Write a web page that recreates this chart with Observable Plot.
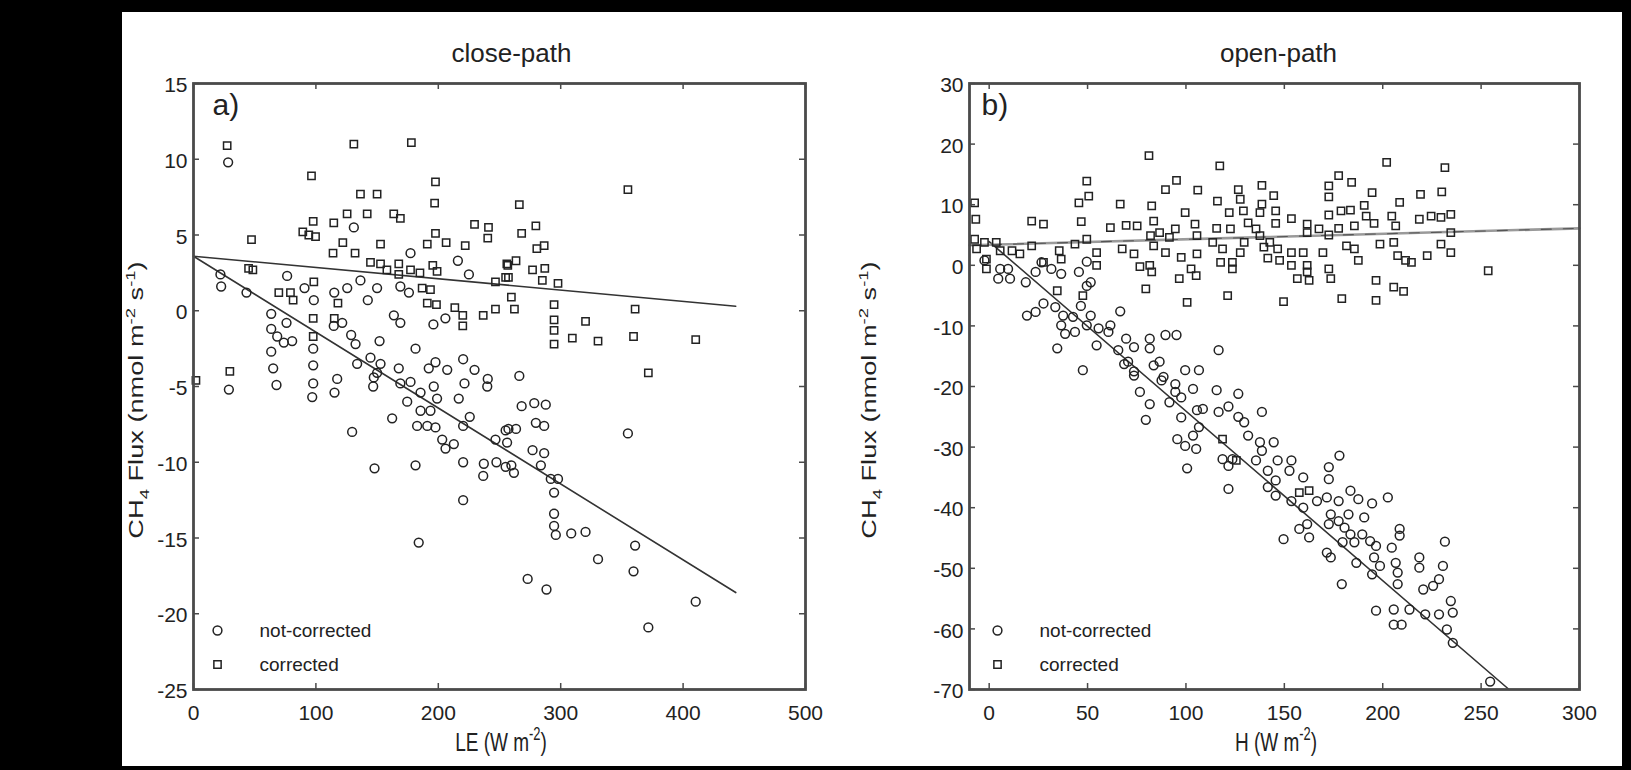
<!DOCTYPE html>
<html>
<head>
<meta charset="utf-8">
<script src="https://cdn.jsdelivr.net/npm/d3@7"></script>
<script src="https://cdn.jsdelivr.net/npm/@observablehq/plot@0.6"></script>
<style>
  html, body { margin: 0; padding: 0; background: #000; }
  #wrap { position: relative; width: 1631px; height: 770px; background: #000; overflow: hidden; }
  #paper { position: absolute; left: 122px; top: 12px; width: 1500px; height: 754px; background: #fff; }
  #pa { position: absolute; left: 0; top: 0; }
  #pb { position: absolute; left: 850px; top: 0; }
</style>
</head>
<body>
<div id="wrap"><div id="paper"></div><div id="pa"></div><div id="pb"></div></div>
<script>
// ---------------- DATA ----------------
const panelTitles = ["close-path", "open-path"];
const panelLetters = ["a)", "b)"];
const legendLabels = ["not-corrected", "corrected"];

const closeXTicks = [0, 100, 200, 300, 400, 500];
const closeYTicks = [15, 10, 5, 0, -5, -10, -15, -20, -25];
const openXTicks = [0, 50, 100, 150, 200, 250, 300];
const openYTicks = [30, 20, 10, 0, -10, -20, -30, -40, -50, -60, -70];

// close-path, not-corrected (circles): [LE, CH4 flux]
const closeNotCorrected = [
  [28.3,9.8],[131,5.5],[177.3,3.8],[216,3.3],[22,2.4],[22.6,1.6],[43.3,1.2],[76.5,2.3],[136.4,2.0],[225,2.4],
  [90.7,1.5],[98.3,0.7],[115,1.2],[125.6,1.5],[142.4,0.7],[150,1.5],[169,1.6],[176,1.2],[63.5,-0.2],[76,-0.8],
  [121.5,-0.8],[114.6,-1.0],[163.7,-0.3],[169,-0.8],[196,-0.9],[205.8,-0.5],[63.5,-1.2],[68.4,-1.7],[80.6,-2.0],
  [128.8,-1.6],[132.4,-2.2],[152,-2.0],[181.4,-2.5],[63.5,-2.7],[97.8,-2.5],[73.8,-2.1],
  [133.7,-3.5],[144.6,-3.1],[152.8,-3.5],[65.1,-3.8],[97.8,-3.6],[150,-4.1],[167.7,-3.8],[192.2,-3.8],[197.7,-3.4],
  [207.3,-3.9],[220.3,-3.2],[229.6,-3.9],[240.4,-4.5],[240,-5.0],[28.9,-5.2],[67.8,-4.9],[97.8,-4.8],[97,-5.7],
  [117.4,-4.5],[115.2,-5.4],[146.8,-5.0],[147.3,-4.4],[169,-4.8],[174.6,-6.0],[177.3,-4.7],[185.5,-5.4],[196.3,-5.0],
  [199,-5.8],[185.5,-6.6],[193.6,-6.6],[162.3,-7.1],[182.7,-7.6],[191,-7.6],[197.7,-7.7],[129.6,-8.0],[203.2,-8.5],
  [212.7,-8.8],[205.9,-9.1],[216.7,-5.8],[221.4,-4.8],[220.3,-7.6],[225.7,-7.0],[246.7,-8.5],[255,-7.9],[220.3,-10.0],
  [237.2,-10.1],[236.7,-10.9],[247.5,-10.0],[255,-10.3],[147.9,-10.4],[181.4,-10.2],[220.3,-12.5],[184,-15.3],
  [266.2,-4.3],[268.1,-6.3],[278.4,-6.1],[287.8,-6.2],[279.7,-7.4],[286.5,-7.6],[257.3,-7.8],[263.5,-7.8],[256.2,-8.7],
  [277,-9.2],[286.5,-9.4],[283.8,-10.2],[259.7,-10.2],[261.8,-10.7],[291.9,-11.1],[297.8,-11.1],[294.6,-12.0],
  [294.6,-13.4],[294.6,-14.2],[296,-14.8],[308.6,-14.7],[320.3,-14.6],[330.5,-16.4],[360.8,-15.5],[359.5,-17.2],
  [354.9,-8.1],[273,-17.7],[288.4,-18.4],[410.3,-19.2],[371.6,-20.9]
];

// close-path, corrected (squares)
const closeCorrected = [
  [27.5,10.9],[96.4,8.9],[131,11.0],[178,11.1],[197.7,8.5],[197,7.1],[136.4,7.7],[150,7.7],[97.8,5.9],[114.6,5.8],
  [125.5,6.4],[141.9,6.4],[163.6,6.4],[169,6.1],[89.3,5.2],[94.2,5.0],[99.7,4.9],[47.4,4.7],[122,4.5],[114,3.8],
  [132,3.8],[152.8,4.4],[191,4.4],[197.7,5.1],[206.4,4.5],[222,4.3],[229.6,5.7],[241,5.5],[240.4,4.8],[256,3.1],
  [45,2.8],[48.5,2.7],[98.3,1.9],[144.6,3.2],[152.8,3.1],[158,2.7],[167.7,3.1],[167.7,2.4],[177.3,2.7],[185,2.5],
  [195.5,3.0],[199,2.6],[246.7,1.9],[255,2.2],[69.7,1.2],[79.2,1.2],[81.4,0.7],[118,0.5],[186.8,1.5],[193.6,1.4],
  [191,0.5],[198.5,0.4],[213.5,0.2],[236.7,-0.3],[246.7,0.1],[97.8,-0.5],[115,-0.5],[220,-0.3],[220,-1.0],[97.8,-1.7],
  [29.7,-4.0],[2,-4.6],
  [354.9,8.0],[266.2,7.0],[268.1,5.1],[279.7,5.6],[280.5,4.1],[286.5,4.3],[263.5,3.3],[256.8,3.0],[257.3,2.2],
  [277,2.7],[287,2.8],[285,2.0],[297.8,1.8],[259.7,0.9],[262.2,0.1],[294.6,0.4],[294.6,-0.6],[294.6,-1.3],
  [294.6,-2.2],[320.3,-0.7],[309.5,-1.8],[330.5,-2.0],[360.8,0.1],[359.5,-1.7],[410.3,-1.9],[371.6,-4.1]
];

// open-path, not-corrected (circles): [H, CH4 flux]
const openNotCorrected = [
  [4.6,-2.2],[10.6,-2.2],[5.6,-0.6],[9.6,-0.6],[-2.4,0.8],[18.6,-2.8],[26.6,0.5],[31.6,-0.6],[36.6,-1.4],[45.6,-1.1],
  [49.6,0.6],[51.6,-2.8],[19.2,-8.3],[23.6,-7.7],[27.6,-6.3],[33.6,-6.9],[37.6,-8.3],[42.6,-8.5],[46.6,-6.7],
  [51.6,-8.3],[36.6,-9.9],[43.6,-11.0],[38.6,-11.3],[49.6,-9.9],[55.6,-10.4],[60.6,-11.0],[61.6,-9.9],[66.6,-7.6],
  [34.6,-13.7],[54.6,-13.2],[47.6,-17.3],[69.6,-12.1],[73.6,-13.5],[81.6,-12.1],[81.6,-13.7],[89.6,-11.5],
  [95.2,-11.5],[116.6,-14.0],[70.6,-15.9],[73.6,-17.5],[83.6,-16.5],[86.6,-15.9],[99.6,-17.3],[106.6,-17.3],
  [88.6,-18.4],[65.6,-14.0],[49.6,-3.4],[23.6,-1.1],
  [68.6,-16.3],[73.6,-18.2],[87.6,-19.0],[94.6,-19.6],[103.6,-20.4],[94.6,-20.9],[76.6,-20.9],[81.6,-22.9],
  [79.6,-25.5],[91.6,-22.6],[97.6,-21.8],[115.6,-20.6],[126.6,-21.2],[105.6,-23.9],[108.6,-23.7],[116.6,-24.2],
  [121.6,-23.3],[126.6,-25.0],[129.6,-25.9],[138.6,-24.2],[97.6,-25.1],[106.6,-26.7],[95.6,-28.7],[99.6,-29.8],
  [105.2,-30.3],[103.6,-28.1],[131.6,-28.1],[137.6,-29.2],[138.6,-30.6],[144.6,-29.2],[100.6,-33.5],[118.6,-32.0],
  [123.6,-32.0],[121.6,-33.1],[135.6,-32.2],[121.6,-36.9],[146.6,-32.2],[141.6,-33.9],[141.6,-36.6],[145.6,-35.5],
  [153.6,-32.2],[159.6,-35.0],[152.6,-33.9],[172.6,-33.3],[172.6,-35.3],[178,-31.4],[145.6,-38.0],[153.6,-38.9],
  [159.6,-40.0],[166.6,-38.9],[171.6,-38.3],[177.6,-38.9],[183.6,-37.2],[187.6,-38.6],[194.6,-39.3],[202.6,-38.3],
  [173.6,-41.1],[182.6,-41.1],[190.6,-41.6],[177.6,-42.2],[172.6,-42.7],[161.6,-42.7],[157.6,-43.5],[162.6,-44.9],
  [149.6,-45.2],[180.6,-43.3],[183.6,-44.4],[185.6,-45.7],[179.6,-45.7],[189.6,-44.4],[193.6,-45.5],[196.6,-46.3],
  [204.6,-46.6],[208.6,-43.5],[208.6,-44.6],[231.6,-45.6],[171.6,-47.4],[173.6,-48.2],[179.2,-52.6],[186.6,-49.1],
  [195.6,-48.2],[198.6,-49.6],[194.6,-51.0],[206.6,-49.1],[207.6,-50.7],[207.6,-52.6],[218.6,-48.2],[218.6,-49.9],
  [230.6,-49.6],[220.6,-53.5],[225.6,-52.9],[228.6,-51.8],[196.6,-57.0],[205.6,-56.8],[205.6,-59.3],[209.6,-59.3],
  [213.6,-56.8],[221.6,-57.6],[228.6,-57.6],[234.6,-55.4],[235.6,-57.3],[232.6,-60.1],[235.6,-62.3],[254.6,-68.7]
];

// open-path, corrected (squares)
const openCorrected = [
  [81.2,18.1],[117.2,16.4],[202,17.0],[231.6,16.1],[49.6,13.9],[50.6,11.4],[45.6,10.3],[95.2,14.0],[89.6,12.5],
  [106,12.4],[116,10.6],[126.6,12.5],[127.6,10.9],[138.6,13.2],[144.6,11.5],[138.6,10.1],[177.6,14.8],[184.2,13.7],
  [172.6,13.1],[172.6,11.3],[194.6,12.0],[208.6,10.4],[219.2,11.7],[230,12.1],[66.6,10.1],[82.6,9.8],[99.6,8.7],
  [122,8.7],[129.2,9.0],[137.6,8.7],[145.6,9.0],[153.6,7.7],[161.6,6.8],[172.6,8.3],[178.8,9.0],[183.6,9.1],
  [190.6,9.9],[191.6,8.1],[204.6,8.1],[218.6,7.6],[224.6,8.1],[229.6,7.9],[234.6,8.4],[-7.4,10.3],[-6.8,7.6],
  [21.6,7.3],[27.6,6.8],[46.8,7.2],[61.6,6.2],[69.6,6.6],[75.2,6.5],[83.6,7.3],[86.6,5.4],[94.6,6.0],[104.6,6.8],
  [115.6,6.1],[122.6,6.0],[131.6,7.0],[135.6,6.0],[145.6,6.9],[161.6,5.4],[167.6,6.0],[177.6,6.1],[185.6,6.5],
  [195.6,6.9],[206.6,6.5],[234.6,5.4],[229.6,3.5],[234.6,2.1],[222.6,1.6],[207.6,1.6],[211.6,0.8],[214.6,0.5],
  [205.6,3.8],[198.6,3.5],[185.6,2.7],[187.6,0.8],[181.6,3.2],[172.6,5.0],[169.6,2.1],[159.6,2.1],[153.6,2.1],
  [146.6,2.7],[142.6,3.8],[141.6,1.2],[147.6,0.8],[153.6,0],[161.6,0],[161.6,-1.1],[156.6,-2.2],[162.6,-2.5],
  [172.6,-0.6],[173.6,-2.2],[196.6,-2.5],[196.6,-5.8],[205.6,-3.6],[210.6,-4.3],[179.2,-5.5],[149.6,-6.0],
  [121.2,-5.0],[100.6,-6.1],[96.6,-2.2],[105.2,-1.7],[102.6,-0.6],[105.6,1.9],[97.6,1.3],[89.6,2.1],[91.6,4.6],
  [82,4.9],[83.6,3.2],[105.6,4.9],[113.6,3.8],[117.6,0.5],[123.6,0.5],[123.6,-0.6],[127.6,2.1],[118.6,2.7],
  [129.6,3.8],[137.6,4.9],[139.6,3.0],[81.6,0],[76.6,-0.2],[82.6,-1.1],[79.6,-3.9],[253.6,-0.9],[67.6,2.7],
  [73.6,1.9],[54.6,2.1],[49.6,4.3],[54.6,0],[43.6,3.5],[35.6,2.4],[36.6,1.0],[27.6,0.5],[34.6,-4.2],[47.6,-5.0],
  [11.6,2.4],[21.6,3.2],[3.6,3.8],[-2.4,3.8],[-7.4,4.3],[-6.4,2.7],[-1.4,1.0],[-1.4,-0.6],[5.6,2.4],[15.6,1.9],
  [157.6,-37.5],[162.6,-37.2],[125.6,-32.2],[118.6,-28.7]
];

// fitted lines (end points)
const closeFitNotCorrected = [[0, 3.6], [443, -18.6]];
const closeFitCorrected = [[0, 3.6], [443, 0.3]];
const openFitNotCorrected = [[0, 3.9], [264.2, -70]];
const openFitCorrected = [[-10, 3.3], [300, 6.1]];

// axis label pieces: [text, kind]
const closeXLabel = [["LE (W m"], ["-2", "sup"], [")"]];
const openXLabel = [["H (W m"], ["-2", "sup"], [")"]];
const yLabel = [["CH"], ["4", "sub"], [" Flux (nmol m"], ["-2", "sup"], [" s"], ["-1", "sup"], [")"]];

// ---------------- DRAWING ----------------
const INK = "#222";
const FRAME = "#4a4a4a";
const FONT = "'Liberation Sans', Arial, Helvetica, sans-serif";

function panel(cfg) {
  const W = cfg.width, H = 770;
  const mt = 83, mb = 81;
  const ph = H - mt - mb, pw = W - cfg.ml - cfg.mr;
  const tl = 6;
  const px = d => d[0], py = d => d[1];
  const dotStyle = {stroke: INK, strokeWidth: 1.5, fill: "none"};
  const svg = Plot.plot({
    width: W, height: H,
    marginLeft: cfg.ml, marginRight: cfg.mr, marginTop: mt, marginBottom: mb,
    x: {domain: cfg.xDomain},
    y: {domain: cfg.yDomain},
    style: {background: "none", fontFamily: FONT, fontSize: "21px", color: INK, overflow: "visible"},
    marks: [
      ...cfg.lines,
      Plot.dot(cfg.nc, {x: px, y: py, symbol: "circle", r: 4.4, ...dotStyle}),
      Plot.dot(cfg.co, {x: px, y: py, symbol: "square", r: 4.1, ...dotStyle}),
      // inward ticks on all four sides
      Plot.tickX(cfg.xTicks, {x: d => d, insetTop: ph - tl, stroke: FRAME, strokeWidth: 1.5}),
      Plot.tickX(cfg.xTicks, {x: d => d, insetBottom: ph - tl, stroke: FRAME, strokeWidth: 1.5}),
      Plot.tickY(cfg.yTicks, {y: d => d, insetRight: pw - tl, stroke: FRAME, strokeWidth: 1.5}),
      Plot.tickY(cfg.yTicks, {y: d => d, insetLeft: pw - tl, stroke: FRAME, strokeWidth: 1.5}),
      Plot.frame({stroke: FRAME, strokeWidth: 2.8}),
      Plot.axisX(cfg.xTicks, {tickSize: 0, tickPadding: 16, tickFormat: d => String(d), label: null, fill: INK}),
      Plot.axisY(cfg.yTicks, {tickSize: 0, tickPadding: 6, tickFormat: d => String(d), label: null, dy: 2, fill: INK}),
      // title & panel letter
      Plot.text([cfg.title], {text: d => d, frameAnchor: "top", lineAnchor: "middle", dx: cfg.titleDx, dy: -30, fontSize: 26, fill: INK}),
      Plot.text([cfg.letter], {text: d => d, frameAnchor: "top-left", dx: cfg.letterDx, dy: 10, lineAnchor: "top", textAnchor: "start", fontSize: 30, fill: INK}),
      // legend
      Plot.dot([legendLabels[0]], {frameAnchor: "bottom-left", dx: cfg.legDx, dy: -59, symbol: "circle", r: 4.4, ...dotStyle}),
      Plot.dot([legendLabels[1]], {frameAnchor: "bottom-left", dx: cfg.legDx, dy: -25, symbol: "square", r: 4.1, ...dotStyle}),
      Plot.text([legendLabels[0]], {text: d => d, frameAnchor: "bottom-left", lineAnchor: "middle", dx: cfg.legDx + 42, dy: -59, textAnchor: "start", fontSize: 19, fill: INK}),
      Plot.text([legendLabels[1]], {text: d => d, frameAnchor: "bottom-left", lineAnchor: "middle", dx: cfg.legDx + 42, dy: -25, textAnchor: "start", fontSize: 19, fill: INK})
    ]
  });

  // axis titles with sub/superscripts (stretched like the source figure)
  function rich(parts, transform, size) {
    const t = d3.select(svg).append("text")
      .attr("transform", transform)
      .attr("text-anchor", "middle")
      .attr("font-family", FONT)
      .attr("font-size", size)
      .attr("fill", INK);
    let cur = 0;
    for (const [s, kind] of parts) {
      const off = kind === "sup" ? -0.42 * size : kind === "sub" ? 0.28 * size : 0;
      t.append("tspan").attr("dy", off - cur).attr("font-size", kind ? size * 0.68 : size).text(s);
      cur = off;
    }
  }
  rich(cfg.xLabel, `translate(${cfg.ml + pw / 2 + 2},751) scale(1,1.4)`, 19);
  rich(yLabel, `translate(${cfg.yLabelX},400) rotate(-90) scale(1.36,1)`, 20);
  return svg;
}

const lineStyle = {x: d => d[0], y: d => d[1], stroke: "#333", strokeWidth: 1.6};

document.getElementById("pa").append(panel({
  width: 850, ml: 193, mr: 45,
  xDomain: [0, 500], yDomain: [-25, 15],
  xTicks: closeXTicks, yTicks: closeYTicks,
  nc: closeNotCorrected, co: closeCorrected,
  title: panelTitles[0], titleDx: 12, letter: panelLetters[0], letterDx: 19, legDx: 24,
  xLabel: closeXLabel, yLabelX: 143,
  lines: [
    Plot.line(closeFitNotCorrected, lineStyle),
    Plot.line(closeFitCorrected, lineStyle)
  ]
}));

document.getElementById("pb").append(panel({
  width: 781, ml: 119, mr: 52,
  xDomain: [-10, 300], yDomain: [-70, 30],
  xTicks: openXTicks, yTicks: openYTicks,
  nc: openNotCorrected, co: openCorrected,
  title: panelTitles[1], titleDx: 4, letter: panelLetters[1], letterDx: 12, legDx: 28,
  xLabel: openXLabel, yLabelX: 26,
  lines: [
    Plot.line(openFitNotCorrected, lineStyle),
    Plot.line(openFitCorrected, {x: d => d[0], y: d => d[1], stroke: "#9a9a9a", strokeWidth: 2.6}),
    Plot.line(openFitCorrected, {x: d => d[0], y: d => d[1], stroke: "#555", strokeWidth: 1.1, strokeDasharray: "10,12"})
  ]
}));
</script>
</body>
</html>
